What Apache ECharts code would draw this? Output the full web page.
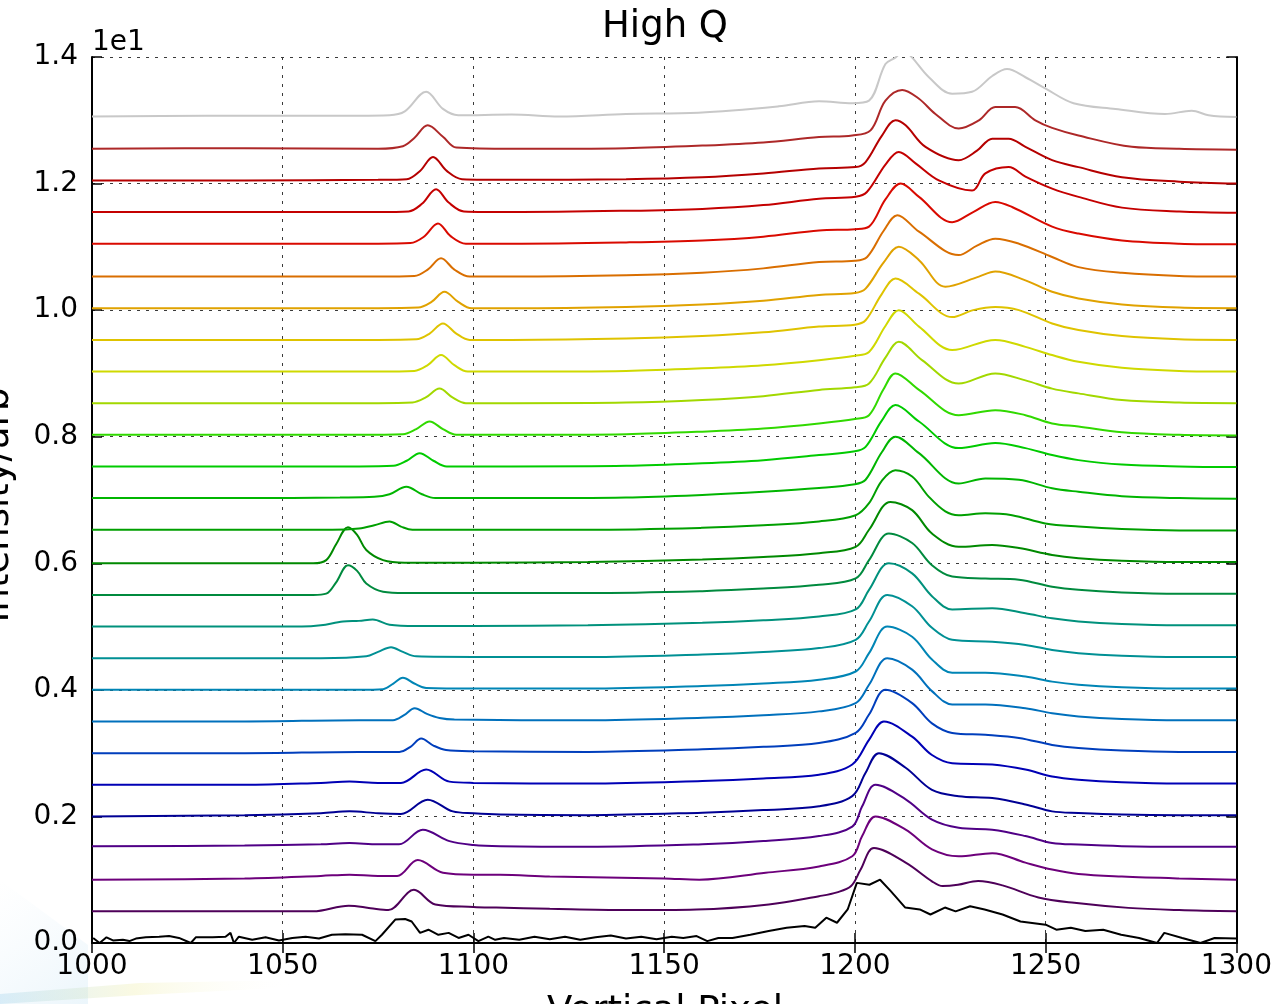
<!DOCTYPE html>
<html>
<head>
<meta charset="utf-8">
<title>High Q</title>
<script src="https://cdn.jsdelivr.net/npm/echarts@6/dist/echarts.min.js"></script>
<style>
  html, body { margin: 0; padding: 0; background: #ffffff; overflow: hidden; }
  #chart { width: 1275px; height: 1004px; }
</style>
</head>
<body>
<div id="chart"></div>
<script>
// Stacked normalised intensity profiles along the vertical pixel axis.
// Each profile is a list of [pixel, normalised intensity] pairs; it is drawn
// shifted upwards by its entry in `offsets` (data units, axis shows x 1e1).

const offsets = [0, 0.5, 1, 1.5, 2, 2.5, 3, 3.5, 4, 4.5, 5, 5.5, 6, 6.5,
                 7, 7.5, 8, 8.5, 9, 9.5, 10, 10.5, 11, 11.5, 12, 12.5, 13];

const xTicks = [1000, 1050, 1100, 1150, 1200, 1250, 1300];
const yTicks = [0, 2, 4, 6, 8, 10, 12, 14];

const s00 = [[1000.3,0.08],[1002,0.0],[1003.8,0.09],[1005.5,0.04],[1008.1,0.05],[1009.8,0.03],[1011.5,0.07],
  [1014.1,0.09],[1017.6,0.10],[1020.2,0.11],[1022.8,0.08],[1025.9,0.0],[1027.2,0.09],[1031.6,0.09],[1035,0.10],
  [1036.3,0.16],[1037.2,0.0],[1038.5,0.10],[1042,0.05],[1045.5,0.09],[1049,0.04],[1052.5,0.08],[1056,0.10],
  [1059.5,0.07],[1062.9,0.13],[1066.4,0.14],[1070.8,0.13],[1074.3,0.03],[1076,0.13],[1079.5,0.37],[1082.1,0.38],
  [1083.8,0.34],[1086,0.16],[1088.2,0.21],[1090.8,0.13],[1093.5,0.16],[1096.1,0.08],[1098.7,0.13],[1101.3,0.03],
  [1103.9,0.10],[1105.7,0.05],[1108,0.08],[1112,0.05],[1116,0.10],[1120,0.06],[1124,0.10],[1128,0.05],
  [1132,0.09],[1136,0.12],[1140,0.07],[1144,0.10],[1148,0.06],[1152,0.10],[1155,0.08],[1158.5,0.11],
  [1161.3,0.03],[1164.2,0.08],[1167.9,0.08],[1172.6,0.13],[1177.4,0.19],[1182.1,0.24],[1186.8,0.27],
  [1189.6,0.24],[1192.5,0.40],[1195.3,0.32],[1198.1,0.53],[1200.5,0.95],[1203.8,0.92],[1206.6,1.0],
  [1209.4,0.82],[1213.2,0.56],[1217,0.53],[1219.8,0.45],[1223.6,0.56],[1226.4,0.50],[1230.2,0.58],[1234,0.53],
  [1238.7,0.45],[1243.4,0.34],[1250,0.29],[1252.8,0.21],[1256.6,0.24],[1260.4,0.19],[1265.1,0.21],
  [1269.8,0.13],[1274.5,0.08],[1279.2,0.0],[1281.1,0.16],[1285.8,0.08],[1290.6,0.0],[1294.3,0.08],[1300,0.07]];

const s01 = [[1000,0.0],[1040,0.0],[1058,0.0],[1067.3,0.09],[1073,0.05],[1077.7,0.02],[1084.4,0.34],[1090,0.11],
  [1100,0.07],[1106,0.06],[1120,0.04],[1140,0.02],[1158.5,0.03],[1177.4,0.11],[1190.6,0.24],[1195.3,0.30],
  [1199,0.40],[1201.5,0.66],[1205,1.0],[1213.3,0.77],[1220.2,0.475],[1223,0.40],[1227,0.42],[1232.3,0.48],
  [1238.7,0.41],[1248.1,0.22],[1257.5,0.135],[1271.7,0.055],[1285,0.02],[1300,0.0]];

const s02 = [[1000,0.0],[1040,0.02],[1060,0.06],[1067.5,0.08],[1075,0.06],[1080,0.06],[1085.4,0.31],[1092,0.11],
  [1100,0.08],[1107,0.08],[1120,0.05],[1150,0.02],[1159.2,0.0],[1176.6,0.11],[1190.6,0.21],[1199.3,0.37],
  [1201.9,0.69],[1205.4,1.0],[1213.3,0.79],[1220.2,0.48],[1227.2,0.37],[1236,0.42],[1244.7,0.27],[1251.7,0.16],
  [1258.6,0.09],[1270,0.05],[1285,0.02],[1300,0.0]];

const s03 = [[1000,0.03],[1040,0.04],[1060,0.06],[1067.5,0.08],[1075,0.06],[1080.5,0.06],[1086.7,0.29],
  [1093.7,0.11],[1100,0.05],[1107,0.03],[1130,0.02],[1160,0.06],[1176,0.11],[1190.6,0.19],[1199.3,0.34],
  [1201.9,0.66],[1205.4,1.0],[1213.3,0.77],[1220.2,0.45],[1227.2,0.32],[1236,0.29],[1244.7,0.19],[1251.7,0.08],
  [1258.6,0.055],[1270,0.03],[1285,0.02],[1300,0.02]];

const s04 = [[1000,0.0],[1040,0.02],[1060,0.05],[1067.5,0.08],[1075,0.05],[1081,0.04],[1088,0.265],[1094.6,0.08],
  [1100,0.05],[1107,0.03],[1130,0.02],[1160,0.06],[1176,0.1],[1190.6,0.16],[1199.3,0.32],[1202.8,0.69],
  [1206.3,1.0],[1213.3,0.77],[1220.2,0.42],[1227.2,0.32],[1236,0.29],[1244.7,0.19],[1251.7,0.08],[1258.6,0.055],
  [1270,0.03],[1285,0.02],[1300,0.02]];

const s05 = [[1000,0.0],[1040,0.0],[1060,0.03],[1067.5,0.05],[1075,0.03],[1081,0.03],[1087.6,0.24],[1093.7,0.05],
  [1100,0.03],[1130,0.02],[1160,0.06],[1176,0.1],[1190.6,0.16],[1199.3,0.32],[1203.7,0.71],[1207.6,1.0],
  [1215,0.76],[1220.2,0.47],[1225.5,0.34],[1236,0.32],[1244.7,0.24],[1251.7,0.13],[1258.6,0.08],[1270,0.04],
  [1285,0.02],[1300,0.02]];

const s06 = [[1000,0.0],[1040,0.0],[1070,0.02],[1080.6,0.02],[1083.5,0.1],[1086.3,0.23],[1089.5,0.12],
  [1092.8,0.05],[1100,0.03],[1130,0.02],[1160,0.06],[1176,0.1],[1190.6,0.16],[1200.2,0.32],[1203.7,0.61],
  [1208,1.0],[1215,0.79],[1220.2,0.47],[1225.5,0.32],[1234.2,0.29],[1243,0.24],[1251.7,0.13],[1258.6,0.08],
  [1270,0.04],[1285,0.02],[1300,0.02]];

const s07 = [[1000,0.0],[1040,0.0],[1070,0.02],[1078.9,0.02],[1081.8,0.1],[1084.6,0.21],[1087.8,0.12],
  [1091.1,0.055],[1095,0.03],[1130,0.02],[1160,0.06],[1176,0.1],[1190.6,0.16],[1200.2,0.29],[1203.7,0.58],
  [1208.5,1.0],[1215,0.82],[1220.2,0.48],[1225.5,0.27],[1234.2,0.27],[1244.7,0.21],[1251.7,0.13],[1258.6,0.08],
  [1270,0.04],[1285,0.02],[1300,0.02]];

const s08 = [[1000,0.0],[1040,0.0],[1070,0.0],[1076.3,0.01],[1079,0.1],[1081.5,0.19],[1084.5,0.1],[1087.6,0.03],
  [1100,0.02],[1130,0.02],[1160,0.06],[1176,0.1],[1190.6,0.16],[1200.2,0.29],[1203.7,0.58],[1208.5,1.0],
  [1215,0.84],[1220.2,0.48],[1225.5,0.27],[1234.2,0.27],[1244.7,0.21],[1251.7,0.13],[1258.6,0.08],[1270,0.04],
  [1285,0.02],[1300,0.02]];

const s09 = [[1000,0.0],[1040,0.0],[1060,0.0],[1071.9,0.03],[1075,0.1],[1078.4,0.175],[1081.5,0.1],[1085,0.03],
  [1100,0.02],[1130,0.02],[1160,0.06],[1176,0.1],[1190.6,0.16],[1200.2,0.29],[1203.7,0.58],[1208.5,1.0],
  [1215,0.82],[1220.2,0.48],[1225.5,0.29],[1236,0.26],[1244.7,0.21],[1251.7,0.13],[1258.6,0.08],[1270,0.04],
  [1285,0.02],[1300,0.02]];

const s10 = [[1000,0.0],[1040,0.0],[1055,0.0],[1060,0.02],[1065.8,0.08],[1070,0.09],[1073.6,0.11],[1078,0.03],
  [1085,0.01],[1100,0.01],[1130,0.02],[1160,0.06],[1176,0.1],[1190.6,0.16],[1200.2,0.27],[1203.7,0.58],
  [1208.9,1.0],[1215,0.84],[1220.2,0.48],[1225.5,0.27],[1236,0.29],[1244.7,0.21],[1251.7,0.13],[1258.6,0.08],
  [1270,0.04],[1285,0.02],[1300,0.02]];

const s11 = [[1000,0.0],[1040,0.0],[1058,0.0],[1061.4,0.02],[1064,0.2],[1067.1,0.47],[1069.5,0.38],[1071.9,0.18],
  [1076.3,0.05],[1082,0.03],[1100,0.03],[1130,0.03],[1160,0.06],[1176,0.1],[1190.6,0.16],[1200.2,0.26],
  [1203.7,0.55],[1208.9,0.97],[1215,0.82],[1220.2,0.47],[1225.5,0.29],[1234.2,0.26],[1243,0.24],[1251.7,0.13],
  [1258.6,0.08],[1270,0.04],[1285,0.02],[1300,0.02]];

const s12 = [[1000,0.0],[1040,0.0],[1058,0.0],[1061.4,0.05],[1064,0.3],[1067.1,0.57],[1069.5,0.45],[1071.9,0.21],
  [1076.3,0.05],[1082,0.01],[1100,0.01],[1130,0.02],[1160,0.06],[1176,0.1],[1190.6,0.16],[1200.2,0.26],
  [1203.7,0.53],[1209.3,0.97],[1215,0.84],[1220.2,0.47],[1227.2,0.26],[1236,0.29],[1243,0.24],[1251.7,0.13],
  [1258.6,0.08],[1270,0.04],[1285,0.02],[1300,0.02]];

const s13 = [[1000,0.03],[1040,0.03],[1054.5,0.03],[1063,0.03],[1070,0.05],[1074,0.1],[1078,0.16],[1081,0.08],
  [1084,0.03],[1100,0.03],[1130,0.03],[1160,0.06],[1176,0.1],[1190.6,0.16],[1200.2,0.26],[1203.7,0.45],
  [1207,0.8],[1210.6,0.97],[1215,0.87],[1219.4,0.55],[1223.7,0.32],[1227.2,0.26],[1234.2,0.29],[1241.2,0.26],
  [1249.9,0.13],[1258.6,0.08],[1270,0.04],[1285,0.02],[1300,0.02]];

const s14 = [[1000,0.03],[1040,0.03],[1065,0.04],[1074,0.05],[1078,0.09],[1082.4,0.21],[1086.5,0.09],[1090,0.03],
  [1110,0.03],[1140,0.04],[1160,0.08],[1176,0.13],[1190.6,0.19],[1200,0.25],[1202.8,0.32],[1207,0.75],
  [1210.6,1.0],[1216.8,0.74],[1227.2,0.26],[1234.2,0.34],[1243,0.32],[1251.7,0.185],[1258.6,0.13],
  [1270,0.06],[1285,0.03],[1300,0.02]];

const s15 = [[1000,0.03],[1040,0.03],[1070,0.03],[1079,0.04],[1082.5,0.12],[1085.9,0.24],[1089.5,0.12],
  [1093,0.03],[1110,0.03],[1140,0.04],[1160,0.08],[1176,0.13],[1190.6,0.21],[1200,0.27],[1202.8,0.34],
  [1207,0.75],[1210.6,1.0],[1216.8,0.74],[1227.2,0.32],[1236.8,0.40],[1244.7,0.32],[1251.7,0.21],
  [1258.6,0.13],[1270,0.06],[1285,0.03],[1300,0.02]];

const s16 = [[1000,0.03],[1040,0.03],[1070,0.03],[1081.5,0.04],[1085,0.12],[1088.5,0.24],[1092,0.12],
  [1095.5,0.03],[1110,0.03],[1140,0.04],[1160,0.08],[1176,0.13],[1190.6,0.21],[1200,0.28],[1203.7,0.34],
  [1207.5,0.75],[1210.6,1.0],[1216.8,0.74],[1227.2,0.34],[1236.8,0.42],[1244.7,0.34],[1251.7,0.21],
  [1258.6,0.16],[1270,0.07],[1285,0.03],[1300,0.02]];

const s17 = [[1000,0.03],[1040,0.03],[1075,0.03],[1084,0.04],[1087.5,0.12],[1091.1,0.26],[1094.5,0.12],
  [1098,0.03],[1110,0.03],[1140,0.04],[1160,0.08],[1176,0.14],[1190.6,0.24],[1200,0.28],[1203.7,0.34],
  [1208,0.75],[1211.5,1.0],[1217.6,0.71],[1227.2,0.34],[1236.8,0.50],[1244.7,0.39],[1251.7,0.26],
  [1258.6,0.185],[1270,0.08],[1285,0.04],[1300,0.03]];

const s18 = [[1000,0.03],[1040,0.03],[1075,0.03],[1084.5,0.04],[1088,0.13],[1091.5,0.29],[1095,0.13],
  [1098.5,0.03],[1110,0.03],[1140,0.04],[1160,0.08],[1176,0.13],[1190.6,0.21],[1200,0.28],[1203.7,0.34],
  [1208,0.75],[1211.5,1.0],[1216.8,0.74],[1225.5,0.37],[1236.8,0.53],[1244.7,0.42],[1251.7,0.29],
  [1258.6,0.185],[1270,0.09],[1285,0.04],[1300,0.03]];

const s19 = [[1000,0.03],[1040,0.03],[1075,0.03],[1085,0.04],[1088.5,0.13],[1092,0.29],[1095.5,0.13],
  [1099,0.03],[1110,0.03],[1140,0.05],[1160,0.09],[1176,0.15],[1190.6,0.24],[1200,0.27],[1202.8,0.34],
  [1207,0.75],[1210.6,1.0],[1216.8,0.76],[1225.5,0.39],[1231,0.50],[1236.8,0.55],[1243,0.50],[1251.7,0.29],
  [1258.6,0.185],[1270,0.09],[1285,0.04],[1300,0.03]];

const s20 = [[1000,0.03],[1040,0.03],[1075,0.03],[1085.5,0.04],[1089,0.13],[1092.4,0.29],[1096,0.13],
  [1099.5,0.03],[1110,0.03],[1140,0.05],[1160,0.09],[1176,0.15],[1190.6,0.24],[1200,0.27],[1202.8,0.34],
  [1207.5,0.75],[1211.5,1.0],[1216.8,0.79],[1223.7,0.37],[1232.5,0.53],[1236.8,0.61],[1244.7,0.47],
  [1251.7,0.29],[1258.6,0.185],[1270,0.09],[1285,0.04],[1300,0.03]];

const s21 = [[1000,0.03],[1040,0.03],[1075,0.03],[1084.5,0.04],[1088,0.14],[1091.5,0.32],[1095,0.14],
  [1099,0.03],[1110,0.03],[1140,0.05],[1160,0.09],[1176,0.16],[1190.6,0.26],[1200,0.28],[1203.2,0.34],
  [1207.5,0.75],[1211.1,1.0],[1216.8,0.74],[1227.2,0.37],[1232,0.52],[1236.8,0.63],[1243,0.55],[1251.7,0.34],
  [1258.6,0.18],[1270,0.09],[1285,0.04],[1300,0.03]];

const s22 = [[1000,0.05],[1040,0.05],[1075,0.05],[1083.5,0.06],[1087,0.16],[1090.7,0.37],[1094,0.17],
  [1098,0.05],[1110,0.05],[1140,0.07],[1160,0.1],[1176,0.16],[1190.6,0.26],[1200,0.28],[1203.7,0.32],
  [1208,0.75],[1212,1.0],[1216.8,0.79],[1225.5,0.39],[1231,0.55],[1236.8,0.71],[1241.2,0.63],[1251.7,0.32],
  [1258.6,0.21],[1270,0.1],[1285,0.05],[1300,0.04]];

const s23 = [[1000,0.05],[1040,0.05],[1075,0.05],[1083,0.06],[1086.5,0.18],[1090.2,0.41],[1093.5,0.2],
  [1097.5,0.06],[1110,0.05],[1140,0.07],[1160,0.1],[1176,0.16],[1190.6,0.26],[1200.2,0.29],[1203.2,0.37],
  [1208,0.8],[1211.5,1.0],[1215.9,0.82],[1222,0.55],[1230.7,0.39],[1234.2,0.66],[1240.3,0.76],[1244.7,0.61],
  [1251.7,0.42],[1258.6,0.29],[1270,0.12],[1285,0.06],[1300,0.04]];

const s24 = [[1000,0.05],[1040,0.05],[1075,0.06],[1082.5,0.07],[1086,0.2],[1089.4,0.42],[1093,0.2],
  [1097,0.07],[1110,0.06],[1140,0.07],[1160,0.1],[1176,0.16],[1190.6,0.24],[1200.2,0.26],[1202.8,0.34],
  [1207,0.75],[1210.6,1.0],[1213.3,0.92],[1218.5,0.58],[1227.2,0.37],[1232,0.52],[1236,0.71],[1240.3,0.71],
  [1244.7,0.58],[1251.7,0.37],[1258.6,0.26],[1270,0.1],[1285,0.03],[1300,0.0]];

const s25 = [[1000,0.05],[1040,0.06],[1075,0.05],[1081.5,0.09],[1084.5,0.22],[1088,0.42],[1092,0.24],
  [1095.5,0.07],[1110,0.05],[1140,0.06],[1160,0.1],[1176,0.15],[1190.6,0.235],[1199.3,0.26],[1204.1,0.34],
  [1208,0.81],[1212.4,0.98],[1216.8,0.84],[1221.1,0.60],[1227.2,0.37],[1232.5,0.50],[1236.8,0.71],[1242,0.71],
  [1247.3,0.50],[1251.7,0.38],[1258.6,0.26],[1272.6,0.08],[1285,0.05],[1300,0.036]];

const s26 = [[1000,0.06],[1030,0.07],[1060,0.07],[1078,0.08],[1082,0.14],[1087.6,0.45],[1092,0.18],[1096,0.08],
  [1110,0.09],[1122.5,0.06],[1140,0.1],[1159,0.12],[1180,0.22],[1190.6,0.30],[1199.3,0.27],[1203.7,0.31],
  [1208,0.89],[1210.6,0.99],[1212.8,1.1],[1215,0.99],[1219.4,0.68],[1225.5,0.42],[1230.7,0.45],[1236,0.70],
  [1239.9,0.81],[1244.7,0.68],[1250,0.50],[1257.3,0.27],[1268.3,0.18],[1281.3,0.10],[1288.3,0.15],
  [1292.7,0.08],[1300,0.05]];

const spectra = [s00, s01, s02, s03, s04, s05, s06, s07, s08, s09, s10, s11, s12, s13,
                 s14, s15, s16, s17, s18, s19, s20, s21, s22, s23, s24, s25, s26];

// spectral palette, one colour per profile (bottom to top)
const lineColors = ['#000000', '#4e0059', '#6d007b', '#500086', '#000094', '#0000b5', '#003ebc',
  '#0070bc', '#0085b5', '#009094', '#00917c', '#008a3e', '#008900', '#009f00', '#00b500', '#00cb00',
  '#31d900', '#a2d800', '#cfd900', '#dfc300', '#e0a200', '#d96e00', '#d90a00', '#c40000', '#b50000',
  '#ad2828', '#c8c8c8'];

const FONT = '"DejaVu Sans", sans-serif';

const chart = echarts.init(document.getElementById('chart'), null, { renderer: 'canvas' });

const series = spectra.map((pts, i) => ({
  type: 'line',
  xAxisIndex: 0,
  yAxisIndex: 0,
  data: pts.map(p => [p[0], p[1] + offsets[i]]),
  showSymbol: false,
  symbol: 'none',
  smooth: i === 0 ? false : 0.35,
  clip: true,
  lineStyle: { color: lineColors[i], width: 2 },
  z: 2 + i,
  animation: false
}));

const gridLine = { show: true, lineStyle: { color: '#3a3a3a', width: 1, type: [3, 6] } };
const frameLine = { show: true, lineStyle: { color: '#000', width: 2 } };
const innerTick = { show: true, inside: true, length: 10, lineStyle: { color: '#000', width: 1.5 } };

chart.setOption({
  backgroundColor: '#ffffff',
  animation: false,
  grid: { left: 92, top: 57, width: 1146, height: 886, containLabel: false },
  xAxis: [
    {
      type: 'value', position: 'bottom',
      min: xTicks[0], max: xTicks[xTicks.length - 1], interval: 50,
      axisLine: frameLine, axisTick: innerTick,
      axisLabel: { fontFamily: FONT, fontSize: 28, color: '#000', margin: 10, formatter: v => String(v) },
      splitLine: gridLine
    },
    {
      type: 'value', position: 'top',
      min: xTicks[0], max: xTicks[xTicks.length - 1], interval: 50,
      axisLine: frameLine, axisTick: innerTick,
      axisLabel: { show: false }, splitLine: { show: false }
    }
  ],
  yAxis: [
    {
      type: 'value', position: 'left',
      min: yTicks[0], max: yTicks[yTicks.length - 1], interval: 2,
      axisLine: frameLine, axisTick: innerTick,
      axisLabel: {
        fontFamily: FONT, fontSize: 28, color: '#000', margin: 14,
        formatter: v => (v / 10).toFixed(1)
      },
      splitLine: gridLine
    },
    {
      type: 'value', position: 'right',
      min: yTicks[0], max: yTicks[yTicks.length - 1], interval: 2,
      axisLine: frameLine, axisTick: innerTick,
      axisLabel: { show: false }, splitLine: { show: false }
    }
  ],
  graphic: [
    // faint slide backdrop in the lower left corner
    {
      type: 'polygon', z: -10, silent: true,
      shape: { points: [[0, 880], [88, 945], [88, 1004], [0, 1004]] },
      style: {
        fill: new echarts.graphic.LinearGradient(0, 0, 1, 1, [
          { offset: 0, color: 'rgba(215,235,248,0)' },
          { offset: 1, color: 'rgba(185,222,242,0.28)' }
        ])
      }
    },
    {
      type: 'polygon', z: -10, silent: true,
      shape: { points: [[0, 994], [140, 983], [300, 980], [300, 987], [140, 995], [0, 1004]] },
      style: {
        fill: new echarts.graphic.LinearGradient(0, 0, 1, 0, [
          { offset: 0, color: 'rgba(150,205,235,0.3)' },
          { offset: 0.45, color: 'rgba(238,236,160,0.3)' },
          { offset: 1, color: 'rgba(255,255,255,0)' }
        ])
      }
    },
    {
      type: 'text', x: 665, y: 9, z: 10,
      style: { text: 'High Q', font: '37px ' + FONT, fill: '#000', textAlign: 'center', textVerticalAlign: 'top' }
    },
    {
      type: 'text', left: 92, top: 29, z: 10,
      style: { text: '1e1', font: '28px ' + FONT, fill: '#000' }
    },
    {
      type: 'text', x: 665, y: 994, z: 10,
      style: { text: 'Vertical Pixel', font: '37px ' + FONT, fill: '#000',
               textAlign: 'center', textVerticalAlign: 'top' }
    },
    {
      type: 'text', x: -2, y: 505, rotation: Math.PI / 2, z: 10,
      style: { text: 'Intensity/arb', font: '37px ' + FONT, fill: '#000',
               textAlign: 'center', textVerticalAlign: 'middle' }
    }
  ],
  series: series
});
</script>
</body>
</html>
